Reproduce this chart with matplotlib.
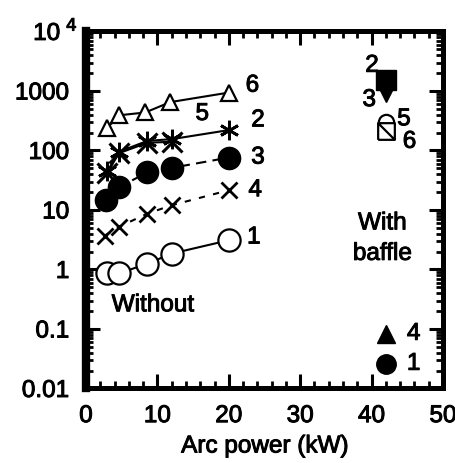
import numpy as np
import matplotlib
matplotlib.use('Agg')
import matplotlib.pyplot as plt
import matplotlib.patheffects as pe
from matplotlib.path import Path
from matplotlib.ticker import FixedLocator, MultipleLocator, NullFormatter

plt.rcParams['font.family'] = ['Liberation Sans', 'DejaVu Sans']

# without baffle: arc power (kW) and measured values, one list per series
p1 = [3.0, 4.6, 8.6, 12.0, 20.0]
v1 = [0.86, 0.86, 1.25, 1.85, 3.1]
p2 = [3.0, 4.6, 8.6, 12.0, 20.0]
v2 = [45, 95, 145, 155, 220]
p3 = [2.8, 4.6, 8.6, 12.0, 20.0]
v3 = [14.5, 24, 43, 51, 76]
p4 = [2.6, 4.6, 8.6, 12.0, 20.0]
v4 = [3.7, 5.2, 8.7, 12, 21.5]
p5 = [3.0, 4.6, 8.6, 12.0]
v5 = [42, 90, 135, 140]
p6 = [3.0, 4.6, 8.3, 11.8, 20.0]
v6 = [240, 390, 435, 650, 940]

# with baffle, all at the same arc power
pb = 42.0
vb = {'1': 0.026, '2': 1550, '3': 920, '4': 0.083, '5': 300, '6': 215}

ytick_vals = [0.01, 0.1, 1, 10, 100, 1000, 1e4]
ytick_labels = ['0.01', '0.1', '1', '10', '100', '1000', '']

fs = 17.5
bold = [pe.withStroke(linewidth=0.7, foreground='k')]

fig = plt.figure(figsize=(4.56, 4.64), dpi=100)
ax = fig.add_axes([86 / 456, 0.1606, 357 / 456, 0.7694])

lw = 1.5
ax.plot(p6, v6, '-', color='k', lw=lw, marker='^', ms=12, mfc='white',
        mec='k', mew=1.6)
ax.plot(p5, v5, '-', color='k', lw=lw, marker='x', ms=14, mew=2.2)
ax.plot(p2, v2, '-', color='k', lw=lw, marker=(6, 2, 0), ms=14, mew=2.0)
ax.plot(p3, v3, color='k', lw=lw, ls=(0, (5, 3)), marker='o', ms=16)
ax.plot(p4, v4, color='k', lw=lw, ls=(0, (3, 4)), marker='x', ms=12, mew=2.0)
ax.plot(p1, v1, '-', color='k', lw=lw, marker='o', ms=16, mfc='white',
        mec='k', mew=1.6)

# square with a diagonal stroke
sq = Path([(-1, -1), (1, -1), (1, 1), (-1, 1), (-1, -1), (-1, 1), (1, -1)],
          [Path.MOVETO, Path.LINETO, Path.LINETO, Path.LINETO, Path.LINETO,
           Path.MOVETO, Path.LINETO])

ax.plot([pb], [vb['2']], marker='s', ms=14, color='k', ls='none')
ax.plot([pb], [vb['3']], marker='v', ms=13, color='k', ls='none')
ax.plot([pb], [vb['5']], marker='o', ms=11, mfc='white', mec='k', mew=1.6,
        ls='none')
ax.plot([pb], [vb['6']], marker=sq, ms=12, mfc='white', mec='k', mew=1.6,
        ls='none')
ax.plot([pb], [vb['4']], marker='^', ms=13, color='k', ls='none')
ax.plot([pb], [vb['1']], marker='o', ms=14, color='k', ls='none')

ends = [
    ('6', p6[-1], v6[-1], (17, 5)),
    ('5', p5[-1], v5[-1], (22, 20)),
    ('2', p2[-1], v2[-1], (21, 7)),
    ('3', p3[-1], v3[-1], (21, 0)),
    ('4', p4[-1], v4[-1], (19, 0)),
    ('1', p1[-1], v1[-1], (18, 2)),
    ('2', pb, vb['2'], (-10, 10)),
    ('3', pb, vb['3'], (-12, -5)),
    ('5', pb, vb['5'], (13, 2)),
    ('6', pb, vb['6'], (17, -8)),
    ('4', pb, vb['4'], (20, 0)),
    ('1', pb, vb['1'], (20, 0)),
]
for txt, x, y, off in ends:
    ax.annotate(txt, (x, y), xytext=off, textcoords='offset points',
                ha='center', va='center', fontsize=fs, path_effects=bold)

ax.text(3.6, 0.25, 'Without', fontsize=fs, ha='left', va='center',
        path_effects=bold)
ax.text(41.5, 3.3, 'With\nbaffle', fontsize=fs, ha='center', va='center',
        linespacing=1.5, path_effects=bold)

ax.set_yscale('log')
ax.set_xlim(0, 50)
ax.set_ylim(0.01, 1e4)
ax.xaxis.set_major_locator(MultipleLocator(10))
ax.xaxis.set_minor_locator(MultipleLocator(2))
ax.yaxis.set_major_locator(FixedLocator(ytick_vals))
ax.set_yticklabels(ytick_labels)
ax.yaxis.set_minor_locator(FixedLocator(
    [m * 10.0 ** e for e in range(-2, 4) for m in range(2, 10)]))
ax.yaxis.set_minor_formatter(NullFormatter())

# top decade label, with its exponent set apart
ax.annotate(r'10$^{\ 4}$', (0, 1e4), xycoords=('axes fraction', 'data'),
            xytext=(-22, 0), textcoords='offset points', ha='center',
            va='center', fontsize=fs, path_effects=bold)

ax.tick_params(which='both', direction='in', top=True, right=True,
               labelsize=fs, colors='k')
ax.tick_params(which='major', length=10, width=2.2)
ax.tick_params(which='minor', length=5, width=2.0)
ax.tick_params(axis='x', which='major', pad=12)
ax.tick_params(axis='y', which='major', pad=12)
for lab in ax.get_xticklabels() + ax.get_yticklabels():
    lab.set_path_effects(bold)
for side in ['top', 'bottom', 'right']:
    ax.spines[side].set_linewidth(3.6)
ax.spines['left'].set_linewidth(6.0)

ax.set_xlabel('Arc power (kW)', fontsize=fs, labelpad=6, path_effects=bold)

fig.savefig('out.png', dpi=100)
